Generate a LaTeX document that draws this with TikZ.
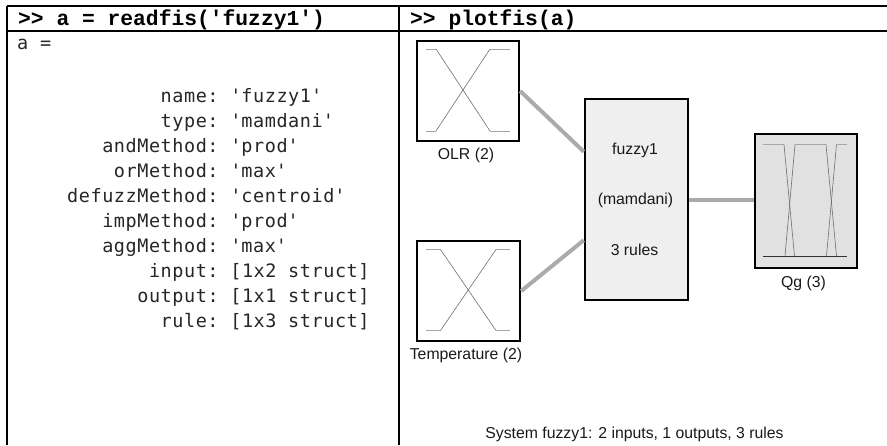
\documentclass[tikz,border=0pt]{standalone}
\usepackage{fontspec}
\setmainfont{Liberation Sans}
\newfontfamily\hdrfont{Liberation Mono}
\newfontfamily\outfont{DejaVu Sans Mono}[LetterSpace=3]
\usetikzlibrary{calc}
\newcommand\sqt{\textquotesingle}
\definecolor{wire}{HTML}{ABABAB}
\definecolor{fisfill}{HTML}{EEEFEE}
\definecolor{outfill}{HTML}{E1E1E1}
\definecolor{mfdiag}{HTML}{6E6E6E}
\definecolor{mfflat}{HTML}{A5A5A5}

\begin{document}
\begin{tikzpicture}[x=1pt,y=-1pt,
  tablerule/.style={line width=1.2pt,black},
  hdr/.style={anchor=base west,inner sep=0pt,font=\hdrfont\bfseries\fontsize{21.3}{25}\selectfont},
  outtext/.style={anchor=base west,inner sep=0pt,font=\outfont\fontsize{18.5}{25}\selectfont,text=black!85},
  lbl/.style={anchor=base,inner sep=0pt,font=\fontsize{15.8}{19}\selectfont,text=black!90},
  mfbox/.style={draw=black,line width=2.4pt,inner sep=0pt,minimum width=102pt,minimum height=100pt},
  conn/.style={draw=wire,line width=4pt},
  mfd/.style={draw=mfdiag,line width=0.6pt},
  mff/.style={draw=mfflat,line width=1pt}]
\useasboundingbox (0,0) rectangle (887,445);

% table frame
\draw[tablerule] (7,6) -- (887,6);
\draw[tablerule] (7,31) -- (887,31);
\draw[tablerule] (7,6) -- (7,445);
\draw[tablerule] (399,6) -- (399,445);

% column headers
\node[hdr] (hleft) at (18,25) {>> a = readfis(\sqt fuzzy1\sqt)};
\node[hdr] (hright) at (410,25) {>> plotfis(a)};

% command output
\node[outtext] (avar) at (17,49) {a =};
\node[outtext] (fields) at (67,102) {\begin{tabular}[t]{@{}r@{\ }l@{}}
name: & \sqt fuzzy1\sqt\\
type: & \sqt mamdani\sqt\\
andMethod: & \sqt prod\sqt\\
orMethod: & \sqt max\sqt\\
defuzzMethod: & \sqt centroid\sqt\\
impMethod: & \sqt prod\sqt\\
aggMethod: & \sqt max\sqt\\
input: & [1x2 struct]\\
output: & [1x1 struct]\\
rule: & [1x3 struct]
\end{tabular}};

% FIS blocks
\node[mfbox] (olr) at (468,91) {};
\node[mfbox,minimum width=103pt] (temp) at (468.5,291) {};
\node[mfbox,fill=fisfill,minimum width=103pt,minimum height=201pt] (fis) at (636.5,199.5) {};
\node[mfbox,fill=outfill,minimum height=134pt] (qg) at (806,201) {};

% connectors
\draw[conn] (olr.east) -- ($(fis.north west)!0.265!(fis.south west)$);
\draw[conn] (temp.east) -- ($(fis.north west)!0.70!(fis.south west)$);
\draw[conn] (fis.east) -- (fis.east -| qg.west);

% membership functions of OLR
\draw[mff] (426,49) -- (436,49);
\draw[mfd] (436,49) -- (490,131);
\draw[mff] (490,131) -- (510,131);
\draw[mff] (426,131) -- (436,131);
\draw[mfd] (436,131) -- (490,49);
\draw[mff] (490,49) -- (510,49);

% membership functions of Temperature
\draw[mff] (426,249.5) -- (440.5,249.5);
\draw[mfd] (440.5,249.5) -- (496,330.5);
\draw[mff] (496,330.5) -- (510,330.5);
\draw[mff] (426,330.5) -- (440.5,330.5);
\draw[mfd] (440.5,330.5) -- (496,249.5);
\draw[mff] (496,249.5) -- (510,249.5);

% membership functions of Qg
\draw[draw=black!80,line width=0.8pt] (763,256) -- (847,256);
\draw[mff] (763,144.5) -- (784,144.5);
\draw[mfd] (784,144.5) -- (794.5,256);
\draw[mfd] (785,256) -- (795,144.5);
\draw[mff] (795,144.5) -- (826,144.5);
\draw[mfd] (826,144.5) -- (836.5,256);
\draw[mfd] (826.5,256) -- (836.5,144.5);
\draw[mff] (836.5,144.5) -- (847,144.5);

% labels
\node[lbl] (olrlbl) at (466,159.5) {OLR (2)};
\node[lbl] (templbl) at (466,359.5) {Temperature (2)};
\node[lbl] (qglbl) at (803.5,287.5) {Qg (3)};
\node[lbl] (fisname) at (635,154.5) {fuzzy1};
\node[lbl] (fistype) at (635.5,204.5) {(mamdani)};
\node[lbl] (fisrules) at (634.5,255) {3 rules};
\node[lbl] (summary) at (634.5,438) {System fuzzy1: 2 inputs, 1 outputs, 3 rules};
\end{tikzpicture}
\end{document}
